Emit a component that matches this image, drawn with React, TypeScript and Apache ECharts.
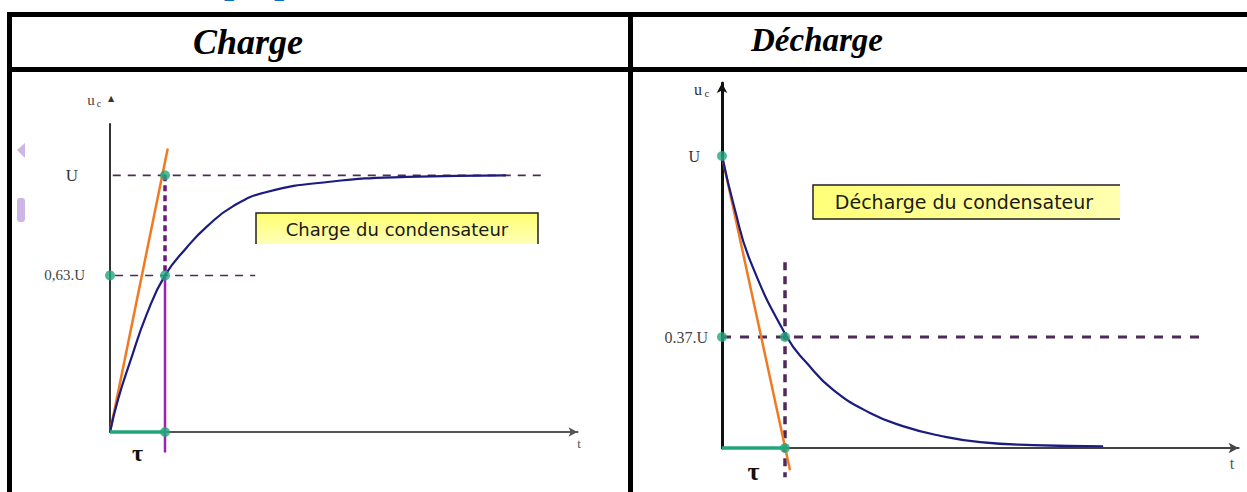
import React, { useEffect, useRef } from 'react';
import * as echarts from 'echarts';

// ---- data (time in units of tau, voltage in units of U) ----
const chargeCurve: number[][] = [
  [0, 0], [0.15, 0.13], [0.36, 0.27], [0.67, 0.46], [1.0, 0.61], [1.4, 0.72], [1.76, 0.8],
  [2.24, 0.88], [2.85, 0.935], [4.0, 0.975], [5.4, 0.994], [7.2, 1.0],
];
const dischargeCurve: number[][] = [
  [0, 1], [0.2, 0.82], [0.45, 0.64], [1.03, 0.38], [1.35, 0.29], [1.76, 0.2],
  [2.35, 0.12], [2.87, 0.075], [3.46, 0.042], [4.1, 0.02], [4.94, 0.01], [6.05, 0.006],
];
const chargeTangent: number[][] = [[0, 0], [1.05, 1.105]];
const dischargeTangent: number[][] = [[0, 1], [1.08, -0.076]];
const chargeLevel = 0.61;      // labelled 0,63.U
const dischargeLevel = 0.38;   // labelled 0.37.U
const chargeULine: number[][] = [[0.05, 1], [7.95, 1]];
const chargeLevelLine: number[][] = [[-0.18, chargeLevel], [2.64, chargeLevel]];
const chargeTauUpper: number[][] = [[1, 1], [1, chargeLevel]];
const chargeTauLower: number[][] = [[1, chargeLevel], [1, -0.08]];
const dischargeLevelLine: number[][] = [[0, dischargeLevel], [7.62, dischargeLevel]];
const dischargeTauLine: number[][] = [[1, 0.636], [1, -0.1]];
const tauSegment: number[][] = [[0, 0], [1, 0]];
const chargePoints: number[][] = [[0, chargeLevel], [1, chargeLevel], [1, 1], [1, 0]];
const dischargePoints: number[][] = [[0, 1], [0, dischargeLevel], [1, dischargeLevel], [1, 0]];
const chargeTicks = [chargeLevel, 1];
const chargeTickLabels = ['0,63.U', 'U'];
const dischargeTicks = [dischargeLevel, 1];
const dischargeTickLabels = ['0.37.U', 'U'];
const headers = ['Charge', 'Décharge'];
const boxTexts = ['Charge du condensateur', 'Décharge du condensateur'];

const GREEN = '#23a67c';
const ORANGE = '#f07a22';
const NAVY = '#1c1c7e';
const DASH = '#4e2a58';

function App() {
  const ref = useRef<HTMLDivElement>(null);
  useEffect(() => {
    if (!ref.current) return;
    const chart = echarts.init(ref.current, null, { renderer: 'svg' });

    const line = (name: string, data: number[][], g: number, color: string, width: number, type: any = 'solid', smooth: any = false, z = 2) => ({
      name, type: 'line', data, xAxisIndex: g, yAxisIndex: g, showSymbol: false, symbol: 'none',
      clip: false, smooth, z, silent: true,
      lineStyle: { color, width, type, cap: 'butt' },
    });
    const dots = (name: string, data: number[][], g: number) => ({
      name, type: 'scatter', data, xAxisIndex: g, yAxisIndex: g, symbolSize: 10, clip: false, z: 5,
      itemStyle: { color: GREEN },
    });

    const yLabel = (ticks: number[], labels: string[], pad: number, uSize: number, size: number) => ({
      customValues: ticks,
      formatter: (v: number) => {
        const i = ticks.findIndex((t) => Math.abs(t - v) < 1e-6);
        const s = i >= 0 ? labels[i] : '';
        return s === 'U' ? '{u|U}' : '{f|' + s + '}';
      },
      rich: {
        u: { fontFamily: 'Liberation Serif', fontSize: uSize, color: '#333', padding: [0, pad, 0, 0] },
        f: { fontFamily: 'Liberation Serif', fontSize: size, color: '#444' },
      },
    });

    const option: any = {
      animation: false,
      backgroundColor: '#ffffff',
      grid: [
        { left: 110, top: 124, width: 467.5, height: 308 },
        { left: 722, top: 83, width: 516.6, height: 365 },
      ],
      xAxis: [
        {
          type: 'value', gridIndex: 0, min: 0, max: 8.5, splitLine: { show: false },
          axisTick: { show: false },
          axisLine: { lineStyle: { color: '#555', width: 2 }, symbol: ['none', 'arrow'], symbolSize: [7, 9] },
          axisLabel: { customValues: [0.5], formatter: () => 'τ', margin: 9, fontFamily: 'Liberation Serif', fontWeight: 'bold', fontSize: 24, color: '#111' },
        },
        {
          type: 'value', gridIndex: 1, min: 0, max: 8.2, splitLine: { show: false },
          axisTick: { show: false },
          axisLine: { lineStyle: { color: '#444', width: 2 }, symbol: ['none', 'arrow'], symbolSize: [8, 10] },
          axisLabel: { customValues: [0.5], formatter: () => 'τ', margin: 10, fontFamily: 'Liberation Serif', fontWeight: 'bold', fontSize: 26, color: '#111' },
        },
      ],
      yAxis: [
        {
          type: 'value', gridIndex: 0, min: 0, max: 1.2, splitLine: { show: false },
          axisTick: { show: false },
          axisLine: { lineStyle: { color: '#333', width: 2 } },
          axisLabel: { ...yLabel(chargeTicks, chargeTickLabels, 7, 17, 15), margin: 25 },
        },
        {
          type: 'value', gridIndex: 1, min: 0, max: 1.25, splitLine: { show: false },
          axisTick: { show: false },
          axisLine: { lineStyle: { color: '#111', width: 3 }, symbol: ['none', 'arrow'], symbolSize: [8, 10] },
          axisLabel: { ...yLabel(dischargeTicks, dischargeTickLabels, 8, 16, 16), margin: 14 },
        },
      ],
      series: [
        line('U', chargeULine, 0, DASH, 1.6, [8, 7]),
        line('0,63U', chargeLevelLine, 0, DASH, 1.6, [8, 7]),
        line('tau upper', chargeTauUpper, 0, '#6a1a7c', 3.5, [6, 4]),
        line('tau lower', chargeTauLower, 0, '#9a22b6', 2.5),
        line('tangente charge', chargeTangent, 0, ORANGE, 2.5),
        line('charge', chargeCurve, 0, NAVY, 2.2, 'solid', 0.5, 3),
        line('tau charge', tauSegment, 0, GREEN, 3.5, 'solid', false, 4),
        dots('points charge', chargePoints, 0),

        line('0.37U', dischargeLevelLine, 1, DASH, 3, [9, 9]),
        line('tau decharge', dischargeTauLine, 1, DASH, 3.5, [8, 6]),
        line('tangente decharge', dischargeTangent, 1, ORANGE, 2.5),
        line('decharge', dischargeCurve, 1, NAVY, 2.2, 'solid', 0.5, 3),
        line('tau decharge seg', tauSegment, 1, GREEN, 3.5, 'solid', false, 4),
        dots('points decharge', dischargePoints, 1),
      ],
      graphic: [
        // partial blue title at very top (cut off in the reference too)
        { type: 'text', x: 166, y: -19, style: { text: 'Les propriétés', fontFamily: 'Liberation Serif', fontStyle: 'italic', fontWeight: 'bold', fontSize: 36, fill: '#0a6fc2', textVerticalAlign: 'middle' } },
        // table borders
        { type: 'rect', shape: { x: 7, y: 12, width: 1250, height: 5 }, style: { fill: '#000' } },
        { type: 'rect', shape: { x: 7, y: 67, width: 1250, height: 5 }, style: { fill: '#000' } },
        { type: 'rect', shape: { x: 7, y: 12, width: 5, height: 490 }, style: { fill: '#000' } },
        { type: 'rect', shape: { x: 628, y: 12, width: 5, height: 490 }, style: { fill: '#000' } },
        // headers
        { type: 'text', x: 248, y: 42, style: { text: headers[0], fontFamily: 'Liberation Serif', fontStyle: 'italic', fontWeight: 'bold', fontSize: 36, fill: '#000', textAlign: 'center', textVerticalAlign: 'middle' } },
        { type: 'text', x: 817, y: 40, style: { text: headers[1], fontFamily: 'Liberation Serif', fontStyle: 'italic', fontWeight: 'bold', fontSize: 33, fill: '#000', textAlign: 'center', textVerticalAlign: 'middle' } },
        // faint decorations
        { type: 'polygon', shape: { points: [[17, 150], [25, 143], [25, 158]] }, style: { fill: '#cdb6e6' } },
        { type: 'rect', shape: { x: 17, y: 198, width: 8, height: 24, r: 3 }, style: { fill: '#cdb6e6' } },
        // yellow boxes
        { type: 'rect', shape: { x: 256, y: 213, width: 282, height: 31 }, style: { fill: new echarts.graphic.LinearGradient(0, 0, 0, 1, [{ offset: 0, color: '#ffff70' }, { offset: 1, color: '#ffffb8' }]) } },
        { type: 'polyline', shape: { points: [[256, 244], [256, 213], [538, 213], [538, 244]] }, style: { stroke: '#222', lineWidth: 1.5, fill: 'none' } },
        { type: 'text', x: 397, y: 229, style: { text: boxTexts[0], fontFamily: 'DejaVu Sans', fontSize: 18, fill: '#1a1a1a', textAlign: 'center', textVerticalAlign: 'middle' } },
        { type: 'rect', shape: { x: 813, y: 185, width: 307, height: 34 }, style: { fill: new echarts.graphic.LinearGradient(0, 0, 1, 0, [{ offset: 0, color: '#ffff78' }, { offset: 1, color: '#ffffb0' }]) } },
        { type: 'polyline', shape: { points: [[1120, 185], [813, 185], [813, 219], [1120, 219]] }, style: { stroke: '#222', lineWidth: 1.5, fill: 'none' } },
        { type: 'text', x: 964, y: 202, style: { text: boxTexts[1], fontFamily: 'DejaVu Sans', fontSize: 19, fill: '#1a1a1a', textAlign: 'center', textVerticalAlign: 'middle' } },
        // axis names
        { type: 'text', x: 91, y: 100, style: { text: 'u', fontFamily: 'Liberation Serif', fontSize: 15, fill: '#444', textAlign: 'center', textVerticalAlign: 'middle' } },
        { type: 'text', x: 99, y: 103, style: { text: 'c', fontFamily: 'Liberation Serif', fontSize: 10, fill: '#444', textAlign: 'center', textVerticalAlign: 'middle' } },
        { type: 'text', x: 111, y: 98, style: { text: '▲', fontFamily: 'DejaVu Sans', fontSize: 8, fill: '#333', textAlign: 'center', textVerticalAlign: 'middle' } },
        { type: 'text', x: 579, y: 443, style: { text: 't', fontFamily: 'Liberation Serif', fontSize: 13, fill: '#555', textAlign: 'center', textVerticalAlign: 'middle' } },
        { type: 'text', x: 698, y: 89, style: { text: 'u', fontFamily: 'Liberation Serif', fontSize: 16, fill: '#333', textAlign: 'center', textVerticalAlign: 'middle' } },
        { type: 'text', x: 707, y: 93, style: { text: 'c', fontFamily: 'Liberation Serif', fontSize: 11, fill: '#333', textAlign: 'center', textVerticalAlign: 'middle' } },
        { type: 'text', x: 1232, y: 463, style: { text: 't', fontFamily: 'Liberation Serif', fontSize: 16, fill: '#555', textAlign: 'center', textVerticalAlign: 'middle' } },
      ],
    };
    chart.setOption(option);
    return () => chart.dispose();
  }, []);
  return <div ref={ref} style={{ position: 'absolute', left: 0, top: 0, width: 1247, height: 492, background: '#fff' }} />;
}

export default App;
